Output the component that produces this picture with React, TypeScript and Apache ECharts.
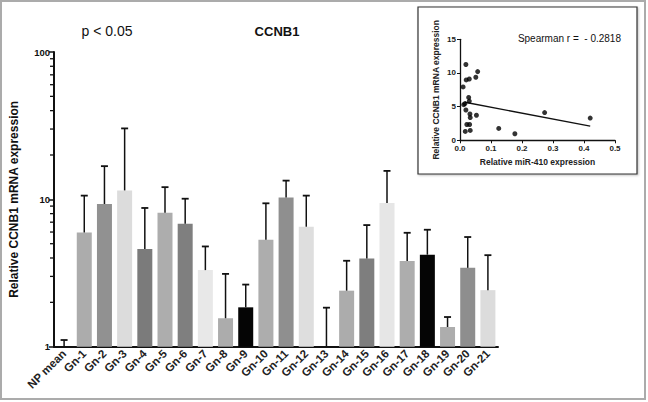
import React, { useEffect, useRef } from "react";
import * as echarts from "echarts";

const categories = ["NP mean", "Gn-1", "Gn-2", "Gn-3", "Gn-4", "Gn-5", "Gn-6", "Gn-7", "Gn-8", "Gn-9", "Gn-10", "Gn-11", "Gn-12", "Gn-13", "Gn-14", "Gn-15", "Gn-16", "Gn-17", "Gn-18", "Gn-19", "Gn-20", "Gn-21"];
const meanValues = [1.0, 5.96, 9.3, 11.5, 4.6, 8.1, 6.83, 3.31, 1.56, 1.85, 5.32, 10.3, 6.52, 1.0, 2.4, 3.97, 9.45, 3.81, 4.21, 1.36, 3.43, 2.42];
const upperValues = [1.11, 10.6, 16.8, 30.3, 8.74, 12.1, 10.1, 4.79, 3.12, 2.64, 9.4, 13.4, 10.6, 1.84, 3.83, 6.69, 15.6, 5.93, 6.22, 1.59, 5.55, 4.18];
const barColors = ["#9a9a9a", "#acacac", "#919191", "#dcdcdc", "#7b7b7b", "#adadad", "#7f7f7f", "#e8e8e8", "#acacac", "#050505", "#adadad", "#8f8f8f", "#dedede", "#9a9a9a", "#acacac", "#7e7e7e", "#e6e6e6", "#adadad", "#050505", "#adadad", "#8e8e8e", "#dcdcdc"];
const minorTickValues = [2, 3, 4, 5, 6, 7, 8, 9, 20, 30, 40, 50, 60, 70, 80, 90];

const mirValues = [0.019, 0.057, 0.02, 0.03, 0.051, 0.01, 0.028, 0.03, 0.012, 0.016, 0.019, 0.032, 0.033, 0.053, 0.022, 0.031, 0.017, 0.033, 0.125, 0.177, 0.273, 0.42];
const ccnb1Values = [11.26, 10.2, 8.97, 9.1, 9.36, 7.93, 6.37, 5.83, 5.29, 5.45, 4.5, 3.91, 3.38, 3.72, 2.35, 2.35, 1.32, 1.47, 1.76, 0.97, 4.12, 3.3];
const fitX = [0.016, 0.42];
const fitY = [5.65, 2.1];

const FONT = "'Liberation Sans', Arial, sans-serif";

export default function App() {
  const ref = useRef<HTMLDivElement>(null);
  useEffect(() => {
    if (!ref.current) return;
    const chart = echarts.init(ref.current, null, { renderer: "svg" });
    const option: any = {
      animation: false,
      backgroundColor: "#ffffff",
      textStyle: { fontFamily: FONT },
      graphic: [
        { type: "rect", z: 0, shape: { x: 1, y: 1, width: 644, height: 398 }, style: { fill: "none", stroke: "#ababab", lineWidth: 2 } },
        { type: "rect", z: 0, shape: { x: 418, y: 7, width: 219, height: 167 }, style: { fill: "#ffffff", stroke: "#333333", lineWidth: 1.2, shadowBlur: 2, shadowColor: "rgba(0,0,0,0.25)", shadowOffsetX: 1, shadowOffsetY: 1 } },
        { type: "text", z: 5, x: 107, y: 31, style: { text: "p < 0.05", fontFamily: FONT, fontSize: 14, fill: "#111", textAlign: "center", textVerticalAlign: "middle" } },
        { type: "text", z: 5, x: 277, y: 31, style: { text: "CCNB1", fontFamily: FONT, fontSize: 13, fontWeight: "bold", fill: "#111", textAlign: "center", textVerticalAlign: "middle" } },
        { type: "text", z: 5, x: 621, y: 38, style: { text: "Spearman r =  - 0.2818", fontFamily: FONT, fontSize: 10, fill: "#111", textAlign: "right", textVerticalAlign: "middle" } },
      ],
      grid: [
        { left: 52, top: 52, width: 446, height: 294.7 },
        { left: 460, top: 39.3, width: 155, height: 101 },
      ],
      xAxis: [
        {
          type: "category",
          gridIndex: 0,
          data: categories,
          axisLine: { lineStyle: { color: "#111", width: 2 } },
          axisTick: { alignWithLabel: true, length: 5, lineStyle: { color: "#111", width: 1.5 } },
          axisLabel: { interval: 0, rotate: 45, fontSize: 11.5, fontWeight: "bold", color: "#222", margin: 5, fontFamily: FONT },
        },
        {
          type: "value",
          gridIndex: 1,
          min: 0,
          max: 0.5,
          interval: 0.1,
          name: "Relative miR-410 expression",
          nameLocation: "middle",
          nameGap: 17,
          nameTextStyle: { fontSize: 8.5, fontWeight: "bold", color: "#222", fontFamily: FONT },
          splitLine: { show: false },
          axisLine: { lineStyle: { color: "#111", width: 1.3 } },
          axisTick: { length: 3, lineStyle: { color: "#111", width: 1 } },
          axisLabel: { fontSize: 8, fontWeight: "bold", color: "#222", margin: 4, formatter: (v: number) => v.toFixed(1), fontFamily: FONT },
        },
      ],
      yAxis: [
        {
          type: "log",
          gridIndex: 0,
          logBase: 10,
          min: 1,
          max: 100,
          name: "Relative CCNB1 mRNA expression",
          nameLocation: "middle",
          nameGap: 34,
          nameTextStyle: { fontSize: 12, fontWeight: "bold", color: "#111", fontFamily: FONT },
          splitLine: { show: false },
          axisLine: { show: true, lineStyle: { color: "#111", width: 2 } },
          axisTick: { show: true, length: 5, lineStyle: { color: "#111", width: 1.5 } },
          axisLabel: { fontSize: 9.5, fontWeight: "bold", color: "#111", margin: 4, fontFamily: FONT },
        },
        {
          type: "value",
          gridIndex: 1,
          min: 0,
          max: 15,
          interval: 5,
          name: "Relative CCNB1 mRNA expression",
          nameLocation: "middle",
          nameGap: 20,
          nameTextStyle: { fontSize: 8.5, fontWeight: "bold", color: "#222", fontFamily: FONT },
          splitLine: { show: false },
          axisLine: { show: true, lineStyle: { color: "#111", width: 1.3 } },
          axisTick: { show: true, length: 3, lineStyle: { color: "#111", width: 1 } },
          axisLabel: { fontSize: 8, fontWeight: "bold", color: "#222", margin: 4, fontFamily: FONT },
        },
      ],
      series: [
        {
          type: "bar",
          xAxisIndex: 0,
          yAxisIndex: 0,
          barWidth: 15,
          data: meanValues.map((v, i) => ({ value: v, itemStyle: { color: barColors[i] } })),
          z: 2,
        },
        {
          type: "custom",
          xAxisIndex: 0,
          yAxisIndex: 0,
          encode: { x: 0, y: [1, 2] },
          data: meanValues.map((v, i) => [i, v, upperValues[i]]),
          z: 3,
          clip: false,
          renderItem: (params: any, api: any) => {
            const i = api.value(0);
            const base = api.coord([i, api.value(1)]);
            const top = api.coord([i, api.value(2)]);
            return {
              type: "group",
              children: [
                { type: "line", shape: { x1: top[0], y1: base[1], x2: top[0], y2: top[1] }, style: { stroke: "#111", lineWidth: 1.5 } },
                { type: "line", shape: { x1: top[0] - 3.5, y1: top[1], x2: top[0] + 3.5, y2: top[1] }, style: { stroke: "#111", lineWidth: 1.8 } },
              ],
            };
          },
        },
        {
          type: "custom",
          xAxisIndex: 0,
          yAxisIndex: 0,
          encode: { x: 0, y: 1 },
          data: minorTickValues.map((v) => [0, v]),
          clip: false,
          z: 4,
          renderItem: (params: any, api: any) => {
            const y = api.coord([0, api.value(1)])[1];
            const x0 = params.coordSys.x;
            return { type: "line", shape: { x1: x0 - 4, y1: y, x2: x0, y2: y }, style: { stroke: "#111", lineWidth: 1.3 } };
          },
        },
        {
          type: "scatter",
          xAxisIndex: 1,
          yAxisIndex: 1,
          symbolSize: 5,
          itemStyle: { color: "#000" },
          data: mirValues.map((x, i) => [x, ccnb1Values[i]]),
          z: 5,
        },
        {
          type: "line",
          xAxisIndex: 1,
          yAxisIndex: 1,
          showSymbol: false,
          symbol: "none",
          lineStyle: { color: "#111", width: 1.3 },
          data: fitX.map((x, i) => [x, fitY[i]]),
          z: 4,
        },
      ],
    };
    chart.setOption(option);
    return () => chart.dispose();
  }, []);
  return <div ref={ref} style={{ position: "absolute", left: 0, top: 0, width: 648, height: 402 }} />;
}
